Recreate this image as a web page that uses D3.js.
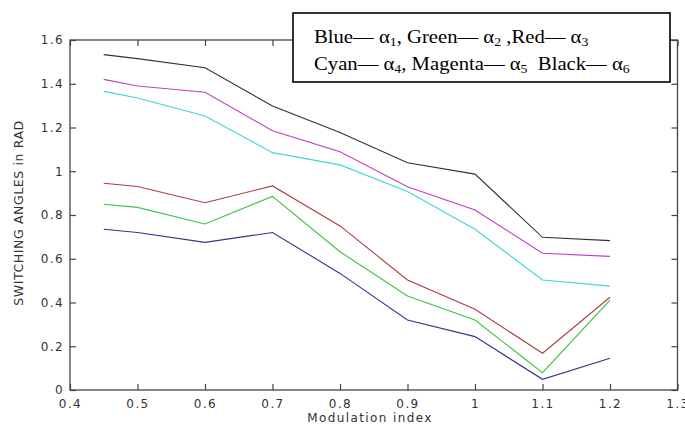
<!DOCTYPE html>
<html lang="en">
  <head>
    <meta charset="utf-8">
    <title>Switching angles</title>
    <script src="https://d3js.org/d3.v7.js"></script>
    <style>
      body { margin: 0; background: #fff; }
      .tick text, .lbl { font-family: "DejaVu Sans", sans-serif; font-size: 12px; fill: #333; letter-spacing: 1.4px; }
      .leg { font-family: "Liberation Serif", serif; font-size: 18px; fill: #000; white-space: pre; }
    </style>
  </head>
  <body>
  <script>

// data
  var modIndex = [0.45, 0.5, 0.6, 0.7, 0.8, 0.9, 1.0, 1.1, 1.2];
  var alpha1 = [0.735, 0.72, 0.675, 0.72, 0.533, 0.32, 0.244, 0.049, 0.145];
  var alpha2 = [0.849, 0.835, 0.759, 0.885, 0.632, 0.43, 0.32, 0.079, 0.411];
  var alpha3 = [0.945, 0.93, 0.856, 0.933, 0.75, 0.503, 0.369, 0.168, 0.424];
  var alpha4 = [1.365, 1.335, 1.253, 1.085, 1.029, 0.907, 0.735, 0.503, 0.475];
  var alpha5 = [1.42, 1.39, 1.361, 1.185, 1.089, 0.929, 0.823, 0.625, 0.611];
  var alpha6 = [1.533, 1.515, 1.473, 1.298, 1.177, 1.039, 0.987, 0.698, 0.683];
  var seriesColors = ["#33338f", "#3fc23f", "#a84040", "#3fd6d6", "#c040c0", "#333333"];
  var xTicks = [0.4, 0.5, 0.6, 0.7, 0.8, 0.9, 1, 1.1, 1.2, 1.3];
  var yTicks = [0, 0.2, 0.4, 0.6, 0.8, 1, 1.2, 1.4, 1.6];

  var w = 685;
  var h = 426;
  var margin = {top: 40, right: 7.5, bottom: 36, left: 70};

  var svg = d3.select("body")
    .append("svg")
      .attr("width", w)
      .attr("height", h);

  var xScale = d3.scaleLinear()
      .domain([0.4, 1.3])
      .range([margin.left, w - margin.right]);

  var yScale = d3.scaleLinear()
      .domain([0, 1.6])
      .range([h - margin.bottom, margin.top]);

  var tickFmt = d => d3.format("")(d);

// box around the plot, MATLAB style ticks pointing in

  svg.append("rect")
      .attr("x", xScale(0.4))
      .attr("y", yScale(1.6))
      .attr("width", xScale(1.3) - xScale(0.4))
      .attr("height", yScale(0) - yScale(1.6))
      .attr("fill", "none")
      .attr("stroke", "#444")
      .attr("stroke-width", 1.3);

  var xAxis = d3.axisBottom(xScale).tickValues(xTicks).tickFormat(tickFmt)
      .tickSizeInner(-6).tickSizeOuter(0).tickPadding(9);
  var xAxisTop = d3.axisTop(xScale).tickValues(xTicks).tickFormat("")
      .tickSizeInner(-6).tickSizeOuter(0);
  var yAxis = d3.axisLeft(yScale).tickValues(yTicks).tickFormat(tickFmt)
      .tickSizeInner(-6).tickSizeOuter(0).tickPadding(6);
  var yAxisRight = d3.axisRight(yScale).tickValues(yTicks).tickFormat("")
      .tickSizeInner(-6).tickSizeOuter(0);

  [[xAxis, `translate(0, ${yScale(0)})`],
   [xAxisTop, `translate(0, ${yScale(1.6)})`],
   [yAxis, `translate(${xScale(0.4)}, 0)`],
   [yAxisRight, `translate(${xScale(1.3)}, 0)`]].forEach(function (a) {
    var g = svg.append("g")
        .attr("transform", a[1])
        .call(a[0]);
    g.select(".domain").remove();
    g.selectAll(".tick line").attr("stroke", "#444").attr("stroke-width", 1.2);
    g.selectAll(".tick text").attr("fill", "#333").attr("font-family", null).attr("font-size", null);
  });

// lines

  var allSeries = [alpha1, alpha2, alpha3, alpha4, alpha5, alpha6];

  var line = d3.line()
      .x((d, i) => xScale(modIndex[i]))
      .y(d => yScale(d));

  svg.append("g")
    .selectAll("path")
      .data(allSeries)
    .enter().append("path")
      .attr("d", line)
      .attr("fill", "none")
      .attr("stroke", (d, i) => seriesColors[i])
      .attr("stroke-width", 1.1);

// axis labels

  svg.append("text")
      .attr("class", "lbl")
      .attr("x", 370)
      .attr("y", 422)
      .attr("text-anchor", "middle")
      .text("Modulation index");

  svg.append("text")
      .attr("class", "lbl")
      .attr("transform", "translate(23, 213) rotate(-90)")
      .attr("text-anchor", "middle")
      .style("font-size", "12.5px")
      .style("letter-spacing", "0.6px")
      .text("SWITCHING ANGLES in RAD");

// legend box

  svg.append("rect")
      .attr("x", 293)
      .attr("y", 13)
      .attr("width", 377)
      .attr("height", 69)
      .attr("fill", "#fff")
      .attr("stroke", "#000")
      .attr("stroke-width", 1.6);

  var legendLines = [
    [["Blue\u2014 \u03b1", "1"], [", Green\u2014 \u03b1", "2"], [" ,Red\u2014 \u03b1", "3"]],
    [["Cyan\u2014 \u03b1", "4"], [", Magenta\u2014 \u03b1", "5"], ["  Black\u2014 \u03b1", "6"]]
  ];

  legendLines.forEach(function (parts, row) {
    var t = svg.append("text")
        .attr("class", "leg")
        .attr("transform", `translate(314, ${43 + row * 27}) scale(1.15, 1)`);
    parts.forEach(function (p, k) {
      t.append("tspan").attr("dy", k == 0 ? 0 : -3).text(p[0]);
      t.append("tspan").attr("dy", 3).style("font-size", "12px").text(p[1]);
    });
  });

  </script>
  </body>
</html>
